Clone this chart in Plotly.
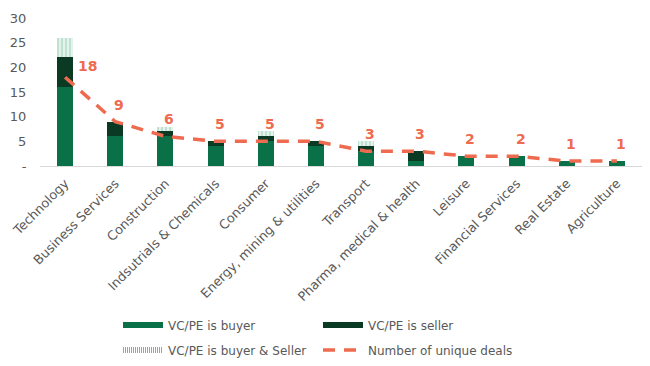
import plotly.graph_objects as go

categories = ["Technology", "Business Services", "Construction", "Indsutrials & Chemicals",
              "Consumer", "Energy, mining & utilities", "Transport", "Pharma, medical & health",
              "Leisure", "Financial Services", "Real Estate", "Agriculture"]
vc_buyer = [16, 6, 6, 4, 5, 4, 3, 1, 2, 2, 1, 1]
vc_seller = [6, 3, 1, 1, 1, 1, 1, 2, 0, 0, 0, 0]
vc_both = [4, 0, 1, 0, 1, 0, 1, 0, 0, 0, 0, 0]
unique_deals = [18, 9, 6, 5, 5, 5, 3, 3, 2, 2, 1, 1]
y_tickvals = [0, 5, 10, 15, 20, 25, 30]
y_ticktext = ["-", "5", "10", "15", "20", "25", "30"]

label_xshift = [22, 4, 4, 4, 4, 4, 4, 4, 4, 4, 4, 4]
label_yshift = [11, 17, 17, 17, 17, 17, 17, 17, 17, 17, 17, 17]

FONT = "DejaVu Sans"
GRAY = "#595959"
SALMON = "#EE6B50"
C_BUY = "#0A7048"
C_SELL = "#0B3A24"
C_BOTH_FG = "#8CC9AE"
C_BOTH_BG = "#E3F2EA"

# page body has an 8px default margin -> figure is 642x358 to fill the 650x366 window
W, H = 642, 358

fig = go.Figure()
fig.add_bar(x=categories, y=vc_buyer, name="VC/PE is buyer", marker_color=C_BUY,
            marker_line_width=0, showlegend=False)
fig.add_bar(x=categories, y=vc_seller, name="VC/PE is seller", marker_color=C_SELL,
            marker_line_width=0, showlegend=False)
fig.add_bar(x=categories, y=vc_both, name="VC/PE is buyer & Seller",
            marker=dict(color=C_BOTH_BG, line_width=0,
                        pattern=dict(shape="|", fgcolor=C_BOTH_FG, bgcolor=C_BOTH_BG,
                                     size=4, solidity=0.4)), showlegend=False)
fig.add_scatter(x=categories, y=unique_deals, name="Number of unique deals", mode="lines",
                line=dict(color=SALMON, width=3.5, dash="12px,9px"), showlegend=False)

# legend proxies (wide rectangular swatches like the original)
fig.add_scatter(x=[None], y=[None], mode="lines", name="VC/PE is buyer",
                line=dict(color=C_BUY, width=6), legend="legend")
fig.add_scatter(x=[None], y=[None], mode="lines", name="VC/PE is seller",
                line=dict(color=C_SELL, width=6), legend="legend")
fig.add_scatter(x=[None], y=[None], mode="lines", name="VC/PE is buyer & Seller",
                line=dict(color="#6DBD99", width=6, dash="1px,1px"), legend="legend2")
fig.add_scatter(x=[None], y=[None], mode="lines", name="Number of unique deals",
                line=dict(color=SALMON, width=3.5, dash="12px,9px"), legend="legend2")

for c, v, dx, dy in zip(categories, unique_deals, label_xshift, label_yshift):
    fig.add_annotation(x=c, y=v, text="<b>%d</b>" % v, showarrow=False, xshift=dx, yshift=dy,
                       font=dict(family=FONT, size=14, color=SALMON))

leg_common = dict(orientation="h", xref="container", yref="container",
                  xanchor="left", yanchor="middle", entrywidth=145, entrywidthmode="pixels",
                  font=dict(family=FONT, size=12, color=GRAY), traceorder="normal",
                  itemwidth=40, bgcolor="rgba(0,0,0,0)")

fig.update_layout(
    width=W, height=H,
    barmode="stack", bargap=0.68,
    plot_bgcolor="white", paper_bgcolor="white",
    margin=dict(l=32, r=8, t=10, b=200, autoexpand=False),
    font=dict(family=FONT, size=11, color=GRAY),
    legend=dict(leg_common, x=(118 - 8) / W, y=1 - (325 - 8) / H),
    legend2=dict(leg_common, x=(118 - 8) / W, y=1 - (350 - 8) / H),
    showlegend=True,
)
fig.update_xaxes(tickangle=-45, showline=True, linecolor="#D9D9D9", linewidth=1,
                 showgrid=False, ticks="outside", ticklen=4, tickcolor="rgba(0,0,0,0)",
                 automargin=False, tickfont=dict(family=FONT, size=12.8, color=GRAY))
fig.update_yaxes(range=[0, 30], tickvals=y_tickvals, ticktext=y_ticktext, showgrid=False,
                 zeroline=False, showline=False, ticks="outside", ticklen=10,
                 tickcolor="rgba(0,0,0,0)", automargin=False,
                 tickfont=dict(family=FONT, size=13, color=GRAY))

fig.write_html("out.html")
